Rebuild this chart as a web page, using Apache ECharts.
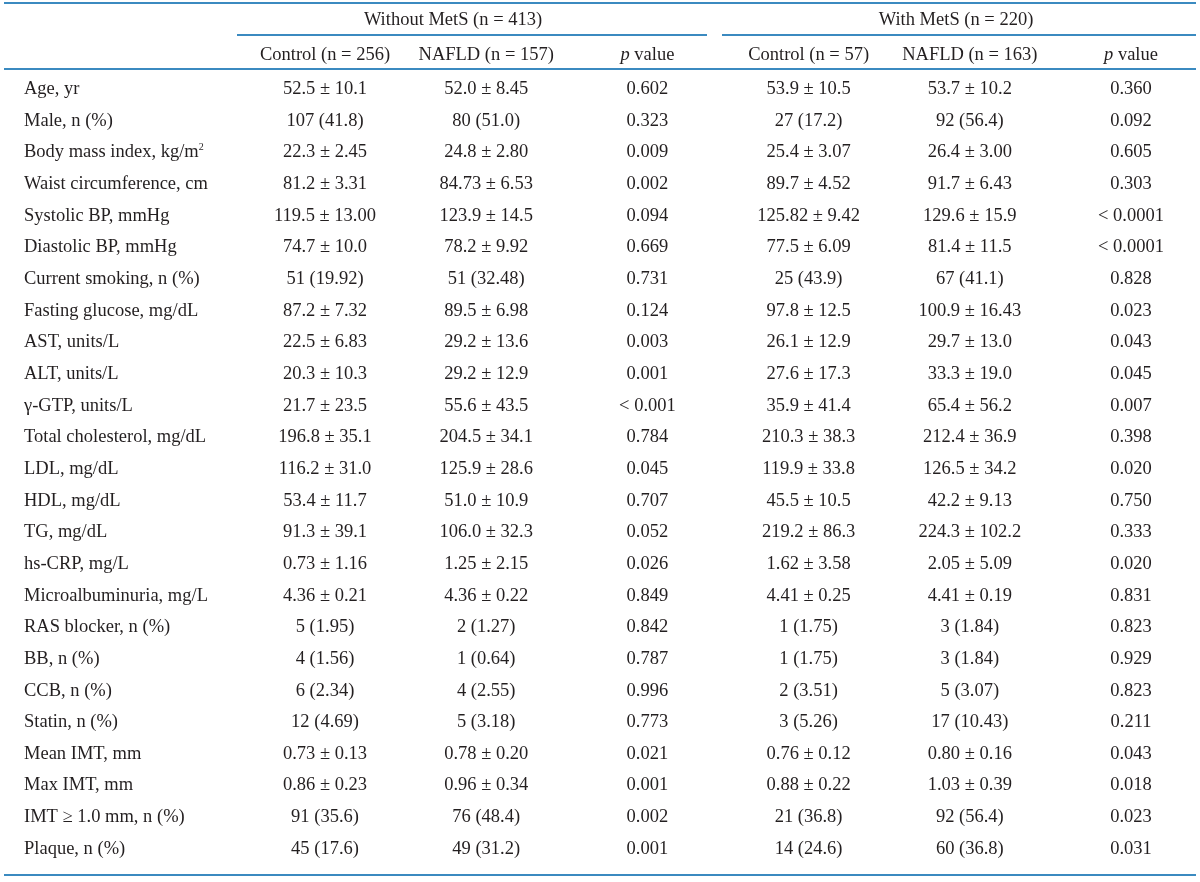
<!DOCTYPE html>
<html>
<head>
<meta charset="utf-8">
<script src="https://cdn.jsdelivr.net/npm/echarts@6/dist/echarts.min.js"></script>
<style>
html,body{margin:0;padding:0;background:#fff;}
#main{width:1200px;height:882px;}
</style>
</head>
<body>
<div id="main"></div>
<script>
var groupHeaders = ['Without MetS (n = 413)', 'With MetS (n = 220)'];
var columnHeaders = ['Control (n = 256)', 'NAFLD (n = 157)', 'p value', 'Control (n = 57)', 'NAFLD (n = 163)', 'p value'];
var rowLabels = ['Age, yr','Male, n (%)','Body mass index, kg/m{sup|2}','Waist circumference, cm','Systolic BP, mmHg','Diastolic BP, mmHg','Current smoking, n (%)','Fasting glucose, mg/dL','AST, units/L','ALT, units/L','\u03B3-GTP, units/L','Total cholesterol, mg/dL','LDL, mg/dL','HDL, mg/dL','TG, mg/dL','hs-CRP, mg/L','Microalbuminuria, mg/L','RAS blocker, n (%)','BB, n (%)','CCB, n (%)','Statin, n (%)','Mean IMT, mm','Max IMT, mm','IMT \u2265 1.0 mm, n (%)','Plaque, n (%)'];
var controlNoMetS = ['52.5 ± 10.1','107 (41.8)','22.3 ± 2.45','81.2 ± 3.31','119.5 ± 13.00','74.7 ± 10.0','51 (19.92)','87.2 ± 7.32','22.5 ± 6.83','20.3 ± 10.3','21.7 ± 23.5','196.8 ± 35.1','116.2 ± 31.0','53.4 ± 11.7','91.3 ± 39.1','0.73 ± 1.16','4.36 ± 0.21','5 (1.95)','4 (1.56)','6 (2.34)','12 (4.69)','0.73 ± 0.13','0.86 ± 0.23','91 (35.6)','45 (17.6)'];
var nafldNoMetS = ['52.0 ± 8.45','80 (51.0)','24.8 ± 2.80','84.73 ± 6.53','123.9 ± 14.5','78.2 ± 9.92','51 (32.48)','89.5 ± 6.98','29.2 ± 13.6','29.2 ± 12.9','55.6 ± 43.5','204.5 ± 34.1','125.9 ± 28.6','51.0 ± 10.9','106.0 ± 32.3','1.25 ± 2.15','4.36 ± 0.22','2 (1.27)','1 (0.64)','4 (2.55)','5 (3.18)','0.78 ± 0.20','0.96 ± 0.34','76 (48.4)','49 (31.2)'];
var pNoMetS = ['0.602','0.323','0.009','0.002','0.094','0.669','0.731','0.124','0.003','0.001','< 0.001','0.784','0.045','0.707','0.052','0.026','0.849','0.842','0.787','0.996','0.773','0.021','0.001','0.002','0.001'];
var controlMetS = ['53.9 ± 10.5','27 (17.2)','25.4 ± 3.07','89.7 ± 4.52','125.82 ± 9.42','77.5 ± 6.09','25 (43.9)','97.8 ± 12.5','26.1 ± 12.9','27.6 ± 17.3','35.9 ± 41.4','210.3 ± 38.3','119.9 ± 33.8','45.5 ± 10.5','219.2 ± 86.3','1.62 ± 3.58','4.41 ± 0.25','1 (1.75)','1 (1.75)','2 (3.51)','3 (5.26)','0.76 ± 0.12','0.88 ± 0.22','21 (36.8)','14 (24.6)'];
var nafldMetS = ['53.7 ± 10.2','92 (56.4)','26.4 ± 3.00','91.7 ± 6.43','129.6 ± 15.9','81.4 ± 11.5','67 (41.1)','100.9 ± 16.43','29.7 ± 13.0','33.3 ± 19.0','65.4 ± 56.2','212.4 ± 36.9','126.5 ± 34.2','42.2 ± 9.13','224.3 ± 102.2','2.05 ± 5.09','4.41 ± 0.19','3 (1.84)','3 (1.84)','5 (3.07)','17 (10.43)','0.80 ± 0.16','1.03 ± 0.39','92 (56.4)','60 (36.8)'];
var pMetS = ['0.360','0.092','0.605','0.303','< 0.0001','< 0.0001','0.828','0.023','0.043','0.045','0.007','0.398','0.020','0.750','0.333','0.020','0.831','0.823','0.929','0.823','0.211','0.043','0.018','0.023','0.031'];

var columns = [controlNoMetS, nafldNoMetS, pNoMetS, controlMetS, nafldMetS, pMetS];
var FAMILY = '"Liberation Serif", "DejaVu Serif", serif';
var SIZE = 18.5;
var FONT = SIZE + 'px ' + FAMILY;
var TEXT = '#231f20';
var RULE = '#3b8ac0';

var chart = echarts.init(document.getElementById('main'), null, {renderer: 'canvas'});

var series = columns.map(function (col, ci) {
  return {
    type: 'custom',
    coordinateSystem: 'cartesian2d',
    data: col.map(function (v, ri) { return [ci, ri]; }),
    renderItem: function (params, api) {
      var pt = api.coord([api.value(0), api.value(1)]);
      return {
        type: 'text',
        style: {
          text: columns[params.seriesIndex][params.dataIndex],
          x: pt[0], y: pt[1] + 1,
          align: 'center', verticalAlign: 'middle',
          font: FONT, fill: TEXT
        }
      };
    },
    silent: true,
    animation: false
  };
});

chart.setOption({
  animation: false,
  backgroundColor: '#fff',
  grid: {left: 237, right: 5, top: 72.2, bottom: 18.2},
  xAxis: {type: 'value', min: -0.546, max: 5.397, show: false},
  yAxis: {
    type: 'category', inverse: true, data: rowLabels,
    axisLine: {show: false}, axisTick: {show: false}, splitLine: {show: false},
    axisLabel: {
      align: 'left', margin: 213, color: TEXT, verticalAlign: 'middle',
      fontFamily: FAMILY, fontSize: SIZE, padding: [2, 0, 0, 0],
      rich: {sup: {fontFamily: FAMILY, fontSize: 10, color: TEXT, verticalAlign: 'top', padding: [0, 0, 9, 0]}}
    }
  },
  series: series
});

var colX = columnHeaders.map(function (h, i) { return chart.convertToPixel({gridIndex: 0}, [i, 0])[0]; });
var graphics = [];
function line(x1, y, x2) {
  graphics.push({type: 'line', shape: {x1: x1, y1: y, x2: x2, y2: y}, style: {stroke: RULE, lineWidth: 2}, silent: true});
}
line(4, 3, 1196);
line(237, 35, 707);
line(722, 35, 1196);
line(4, 69, 1196);
line(4, 875, 1196);
var groupX = [453, 956];
groupHeaders.forEach(function (g, i) {
  graphics.push({type: 'text', style: {text: g, x: groupX[i], y: 20, align: 'center', verticalAlign: 'middle', font: FONT, fill: TEXT}, silent: true});
});
columnHeaders.forEach(function (h, i) {
  var isP = h.indexOf('p value') === 0;
  graphics.push({
    type: 'text',
    style: {
      text: isP ? '{i|p} value' : h,
      x: colX[i], y: 55, align: 'center', verticalAlign: 'middle', font: FONT, fill: TEXT,
      rich: {i: {fontStyle: 'italic', fontFamily: FAMILY, fontSize: SIZE, fill: TEXT}}
    },
    silent: true
  });
});
chart.setOption({graphic: graphics});
</script>
</body>
</html>
